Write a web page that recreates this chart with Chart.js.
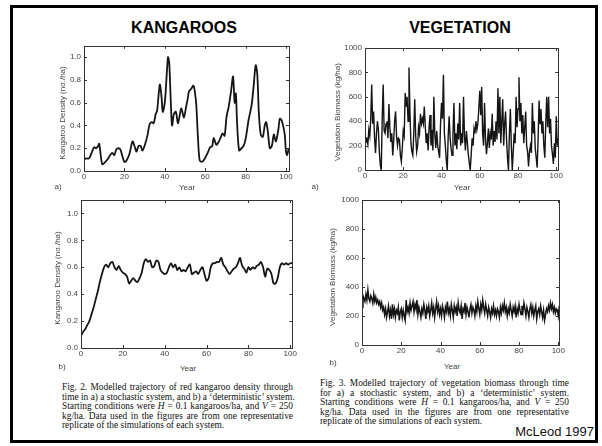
<!DOCTYPE html>
<html>
<head>
<meta charset="utf-8">
<script src="https://cdn.jsdelivr.net/npm/chart.js@4.4.0/dist/chart.umd.min.js"></script>
<style>
  body { margin: 0; background: #fff; width: 602px; height: 446px; position: relative; overflow: hidden; font-family: "Liberation Sans", Arial, sans-serif; }
  .frame { position: absolute; left: 10px; top: 5px; width: 588px; height: 438px; border: 3px solid #000; box-sizing: border-box; }
  .title { position: absolute; font-weight: bold; font-size: 16px; color: #000; transform: translateX(-50%); top: 19px; }
  .lab { position: absolute; font-size: 8px; color: #444; white-space: nowrap; transform: translate(-50%, -50%); }
  .ytitle { position: absolute; font-size: 8px; color: #444; white-space: nowrap; transform: translate(-50%, -50%) rotate(-90deg); }
  .box { position: absolute; }
  .cap { position: absolute; font-family: "Liberation Serif", "Times New Roman", serif; font-size: 9.4px; line-height: 9.5px; color: #111; }
  .cap div { text-align: justify; text-align-last: justify; white-space: nowrap; }
  .cap div.last { text-align-last: left; }
  .src { position: absolute; right: 8px; top: 424px; font-size: 13px; color: #111; }
</style>
</head>
<body>
<div class="frame"></div>
<div class="title" style="left:184px">KANGAROOS</div>
<div class="title" style="left:460px">VEGETATION</div>

<div class="box" style="left:40px;top:38px;width:254px;height:150px"><canvas id="ka"></canvas></div>
<div class="box" style="left:320px;top:40px;width:244px;height:148px"><canvas id="va"></canvas></div>
<div class="box" style="left:36px;top:192px;width:262px;height:168px"><canvas id="kb"></canvas></div>
<div class="box" style="left:316px;top:192px;width:250px;height:168px"><canvas id="vb"></canvas></div>

<div class="ytitle" style="left:62px;top:113px">Kangaroo Density (no./ha)</div>
<div class="ytitle" style="left:337px;top:112px">Vegetation Biomass (kg/ha)</div>
<div class="ytitle" style="left:57px;top:278px">Kangaroo Density (no./ha)</div>
<div class="ytitle" style="left:332px;top:277px">Vegetation Biomass (kg/ha)</div>

<div class="lab" style="left:187px;top:187px">Year</div>
<div class="lab" style="left:58px;top:186px">a)</div>
<div class="lab" style="left:462px;top:187px">Year</div>
<div class="lab" style="left:315px;top:186px">a)</div>
<div class="lab" style="left:188px;top:368px">Year</div>
<div class="lab" style="left:62px;top:366px">b)</div>
<div class="lab" style="left:452px;top:366px">Year</div>
<div class="lab" style="left:333px;top:362px">b)</div>

<div class="cap" style="left:62px;top:383px;width:231px">
  <div>Fig. 2. Modelled trajectory of red kangaroo density through</div>
  <div>time in a) a stochastic system, and b) a ‘deterministic’ system.</div>
  <div>Starting conditions were <i>H</i> = 0.1 kangaroos/ha, and <i>V</i> = 250</div>
  <div>kg/ha. Data used in the figures are from one representative</div>
  <div class="last">replicate of the simulations of each system.</div>
</div>
<div class="cap" style="left:320px;top:379px;width:249px">
  <div>Fig. 3. Modelled trajectory of vegetation biomass through time</div>
  <div>for a) a stochastic system, and b) a ‘deterministic’ system.</div>
  <div>Starting conditions were <i>H</i> = 0.1 kangaroos/ha, and <i>V</i> = 250</div>
  <div>kg/ha. Data used in the figures are from one representative</div>
  <div class="last">replicate of the simulations of each system.</div>
</div>
<div class="src">McLeod 1997</div>

<script>
// tick labels
var yearTicks = [0, 20, 40, 60, 80, 100];
var densityTicks = [0, 0.2, 0.4, 0.6, 0.8, 1.0];
var biomassTicks = [0, 200, 400, 600, 800, 1000];

// a) stochastic kangaroo density (years read off the curve)
var kangYearsA = [0,1,2.5,4,5,6,7,7.5,8,9,10,12,13,14,15,16,17,18,19,20,21,22.5,24,25,26,27,28,29,30.5,31.5,32.5,33.5,34.5,35.5,36.2,37,37.6,38.4,39,40,41,41.6,42.2,43,43.6,44.5,45.5,46.5,47.5,48.2,49.5,50.5,51.2,52,53,54.2,55,55.6,56.4,57.2,58.2,59.5,61,62.5,63.5,64.2,65.5,66.5,67.8,68.6,69.6,70.6,71.6,72.8,73.8,74.6,75.2,75.8,76.8,78,79,80,81.5,83,84,85,85.8,86.6,87.5,88.5,89.5,90.2,91,92,93,94,95,96.2,97,98,99.4,100,100.6,101.3];
var kangDensA = [0.10,0.11,0.11,0.17,0.21,0.20,0.22,0.24,0.18,0.06,0.07,0.11,0.14,0.16,0.14,0.19,0.20,0.19,0.13,0.08,0.09,0.15,0.26,0.22,0.17,0.22,0.22,0.18,0.25,0.32,0.41,0.43,0.42,0.50,0.53,0.68,0.76,0.65,0.52,0.60,0.86,1.00,0.95,0.60,0.40,0.50,0.52,0.42,0.50,0.55,0.47,0.56,0.62,0.70,0.72,0.75,0.68,0.58,0.30,0.10,0.08,0.10,0.15,0.21,0.22,0.29,0.23,0.25,0.30,0.33,0.31,0.48,0.56,0.70,0.83,0.60,0.68,0.42,0.18,0.20,0.22,0.28,0.45,0.58,0.75,0.93,0.85,0.50,0.32,0.30,0.40,0.43,0.35,0.20,0.22,0.32,0.26,0.36,0.46,0.44,0.32,0.17,0.14,0.20];

// a) stochastic vegetation biomass, every half year from 0 to 101
var vegBiomassA = [270,230,250,210,330,280,420,700,380,480,260,140,300,400,330,150,40,0,420,700,
  320,300,380,400,260,540,350,230,300,120,240,400,480,280,200,260,250,120,70,180,
  320,280,630,520,600,400,840,480,220,150,120,300,580,280,150,200,350,300,460,380,
  420,380,520,360,220,300,160,350,450,200,330,160,600,300,180,320,200,150,100,380,
  550,420,780,300,200,80,0,280,440,260,180,120,300,550,200,300,170,380,250,550,
  200,300,220,600,280,160,320,230,130,60,0,120,260,200,340,300,400,330,380,500,
  650,450,680,300,200,550,260,130,220,340,180,300,250,460,200,320,230,400,250,670,
  300,600,220,400,580,200,380,480,250,100,0,300,500,200,0,150,300,220,600,350,
  500,760,400,550,300,450,220,350,480,200,150,30,150,200,140,550,300,400,180,100,
  20,250,570,380,500,300,400,200,100,380,600,350,600,300,420,200,130,50,220,100,
  440,200,260];

// b) deterministic kangaroo density, yearly 0..101
var kangDensB = [0.09,0.12,0.14,0.17,0.20,0.25,0.30,0.36,0.42,0.49,0.55,0.60,0.62,0.60,0.63,0.64,0.60,0.58,0.61,0.58,
  0.56,0.55,0.53,0.48,0.50,0.52,0.50,0.49,0.52,0.56,0.63,0.66,0.64,0.65,0.60,0.61,0.65,0.64,0.58,0.56,
  0.55,0.56,0.60,0.63,0.60,0.62,0.58,0.60,0.57,0.58,0.57,0.60,0.62,0.55,0.56,0.57,0.55,0.58,0.60,0.55,
  0.50,0.52,0.60,0.63,0.63,0.64,0.64,0.67,0.62,0.60,0.57,0.55,0.57,0.59,0.60,0.63,0.67,0.61,0.59,0.56,
  0.60,0.58,0.60,0.59,0.61,0.62,0.64,0.60,0.53,0.59,0.58,0.55,0.48,0.48,0.52,0.60,0.63,0.62,0.63,0.62,
  0.63,0.63];

// b) deterministic vegetation biomass, every half year from 0 to 101
var vegBiomassB = [260,340,320,300,350,310,380,320,300,340, 320,290,350,300,330,290,310,280,300,260,
  290,240,260,210,250,190,230,270,200,240, 180,280,210,250,190,240,220,260,170,230,
  250,190,240,200,170,310,230,260,220,290, 240,270,300,230,280,250,310,210,260,230,
  190,250,220,280,240,180,260,230,270,200, 240,290,220,260,190,250,300,230,270,210,
  250,200,270,240,190,260,230,300,220,250, 200,280,240,190,270,230,260,200,290,240,
  220,270,180,250,230,290,210,260,230,190, 250,280,220,260,240,200,270,230,300,250,
  210,280,240,310,260,220,280,240,200,260, 230,190,250,220,270,210,240,200,250,230,
  190,260,220,270,240,290,230,260,200,250, 220,280,240,200,260,230,270,190,250,220,
  280,240,210,270,230,290,250,200,260,230, 190,250,280,220,260,200,240,270,180,230,
  250,210,270,230,190,240,170,210,250,230, 270,240,290,250,280,230,260,220,250,240,
  200,270,240];

function pts(xs, ys) {
  return ys.map(function(v, i) { return { x: xs[i], y: v }; });
}
function stepPts(ys, step) {
  return ys.map(function(v, i) { return { x: i * step, y: v }; });
}

// frame with inward ticks, like the old plotting package
var boxPlugin = {
  id: 'boxTicks',
  afterDraw: function(chart) {
    var ctx = chart.ctx, a = chart.chartArea;
    var xs = chart.scales.x, ys = chart.scales.y;
    ctx.save();
    ctx.strokeStyle = '#333';
    ctx.lineWidth = 1;
    ctx.strokeRect(Math.round(a.left) + 0.5, Math.round(a.top) + 0.5, Math.round(a.right - a.left), Math.round(a.bottom - a.top));
    ctx.beginPath();
    xs.ticks.forEach(function(t) {
      var p = Math.round(xs.getPixelForValue(t.value)) + 0.5;
      ctx.moveTo(p, a.bottom); ctx.lineTo(p, a.bottom - 3);
      ctx.moveTo(p, a.top); ctx.lineTo(p, a.top + 3);
    });
    ys.ticks.forEach(function(t) {
      var p = Math.round(ys.getPixelForValue(t.value)) + 0.5;
      ctx.moveTo(a.left, p); ctx.lineTo(a.left + 3, p);
      ctx.moveTo(a.right, p); ctx.lineTo(a.right - 3, p);
    });
    ctx.stroke();
    ctx.restore();
  }
};

function makePanel(id, data, xMax, yMax, yTicks, fmt, lay, lw) {
  new Chart(document.getElementById(id), {
    type: 'line',
    data: { datasets: [{ data: data, borderColor: '#151515', borderWidth: lw, pointRadius: 0, tension: lay.tension, fill: false }] },
    options: {
      responsive: true,
      maintainAspectRatio: false,
      animation: false,
      parsing: false,
      layout: { padding: { top: lay.padT, right: lay.padR, left: 0, bottom: 0 } },
      plugins: { legend: { display: false }, tooltip: { enabled: false } },
      scales: {
        x: {
          type: 'linear', min: 0, max: xMax,
          grid: { display: false, drawTicks: false },
          border: { display: false },
          ticks: { includeBounds: false, color: '#444', font: { size: 8, family: 'Liberation Sans' }, padding: 1, maxRotation: 0 },
          afterBuildTicks: function(s) { s.ticks = yearTicks.map(function(v) { return { value: v }; }); },
          afterFit: function(s) { s.height = lay.xH; }
        },
        y: {
          type: 'linear', min: 0, max: yMax,
          grid: { display: false, drawTicks: false },
          border: { display: false },
          ticks: { includeBounds: false, color: '#444', font: { size: 8, family: 'Liberation Sans' }, padding: 3, callback: fmt },
          afterBuildTicks: function(s) { s.ticks = yTicks.map(function(v) { return { value: v }; }); },
          afterFit: function(s) { s.width = lay.yW; }
        }
      }
    },
    plugins: [boxPlugin]
  });
}

var densFmt = function(v) { return v.toFixed(1); };
var bioFmt = function(v) { return String(v); };

makePanel('ka', pts(kangYearsA, kangDensA), 101.5, 1.1, densityTicks, densFmt, { yW: 44, padT: 6, padR: 5, xH: 17, tension: 0.3 }, 1.8);
makePanel('va', stepPts(vegBiomassA, 0.5), 101, 1000, biomassTicks, bioFmt, { yW: 45, padT: 8, padR: 5, xH: 18, tension: 0 }, 1.4);
makePanel('kb', stepPts(kangDensB, 1), 101, 1.1, densityTicks, densFmt, { yW: 45, padT: 8, padR: 5, xH: 12, tension: 0.3 }, 1.8);
makePanel('vb', stepPts(vegBiomassB, 0.5), 100.4, 1000, biomassTicks, bioFmt, { yW: 46, padT: 8, padR: 6, xH: 15, tension: 0 }, 1.5);
</script>
</body>
</html>
